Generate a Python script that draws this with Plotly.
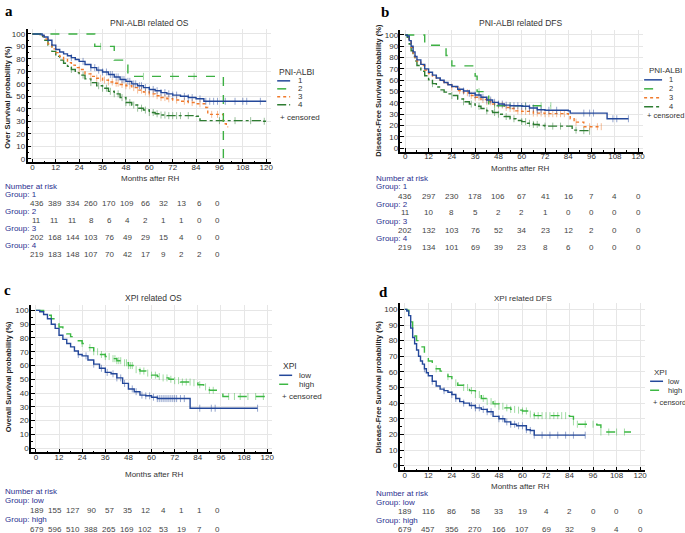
import numpy as np
import plotly.graph_objects as go

W, H = 685, 533

MONTH_TICKS = [0, 12, 24, 36, 48, 60, 72, 84, 96, 108, 120]

# ---------------- Panel a: PNI-ALBI related OS ----------------
A1_T = [0, 3, 5, 6, 8, 10, 12, 14, 16, 18, 20, 22, 24, 27, 30, 33, 36, 39, 42, 45, 48, 51, 54, 57, 60, 63, 66, 69, 72, 76, 80, 84, 88, 120]
A1_S = [100, 100, 99, 97.5, 95, 91, 87.5, 85.5, 84, 82.5, 81, 79.5, 78, 75.5, 73, 71, 69.5, 67.5, 65.5, 63.5, 62, 60, 58.5, 57, 55.5, 54.5, 53, 52, 51, 50, 49, 48, 46, 46]
A2_T = [0, 32, 42, 49, 98]
A2_S = [100, 90, 79, 66, 0]
A3_T = [0, 3, 4, 6, 8, 10, 12, 14, 16, 18, 20, 22, 24, 27, 30, 33, 36, 39, 42, 45, 48, 51, 54, 57, 60, 63, 66, 69, 72, 76, 80, 84, 89, 90, 98, 99.5, 100.5]
A3_S = [100, 100, 98.5, 96, 92, 88, 85, 82, 79.5, 77, 75, 73, 71.5, 68, 66, 64.5, 63, 61.5, 60.5, 59.5, 58.5, 57, 55, 53.5, 52, 50.5, 49, 48, 47, 46, 45, 44, 41, 35.5, 28, 25.5, 25.5]
A4_T = [0, 3, 4, 6, 8, 10, 12, 14, 16, 18, 20, 22, 24, 27, 30, 33, 36, 39, 42, 45, 48, 51, 54, 57, 60, 63, 66, 69, 72, 80, 84, 86, 117, 120]
A4_S = [100, 100, 98, 95, 91, 86, 82, 79, 76.5, 74, 71.5, 69, 67, 64, 61, 58.5, 56.5, 54, 52, 49, 45, 43, 40.5, 39, 37, 36, 35, 34.5, 34.5, 34.5, 34, 30.5, 30, 30]
A1_C = [20, 26, 30, 32, 34, 36, 38, 40, 41, 43, 44, 46, 47, 49, 50, 52, 53, 55, 56, 58, 60, 62, 64, 66, 68, 70, 72, 74, 78, 80, 82, 86, 89, 91, 93, 95, 99, 104, 108, 110, 117]
A2_C = [35, 57, 72, 83]
A3_C = [24, 30, 33, 35, 37, 39, 41, 43, 44, 46, 48, 50, 52, 54, 56, 58, 60, 62, 64, 66, 68, 70, 74, 78, 82, 86, 92, 95]
A4_C = [20, 26, 30, 34, 36, 38, 40, 42, 44, 46, 48, 50, 52, 54, 56, 58, 60, 62, 64, 66, 68, 70, 72, 74, 76, 80, 96, 104, 112, 119]
A_RISK_1 = [436, 389, 334, 260, 170, 109, 66, 32, 13, 6, 0]
A_RISK_2 = [11, 11, 11, 8, 6, 4, 2, 1, 1, 0, 0]
A_RISK_3 = [202, 168, 144, 103, 76, 49, 29, 15, 4, 0, 0]
A_RISK_4 = [219, 183, 148, 107, 70, 42, 17, 9, 2, 2, 0]

# ---------------- Panel b: PNI-ALBI related DFS ----------------
B1_T = [0, 1, 2, 3, 4, 5, 6, 8, 10, 12, 14, 16, 18, 20, 22, 24, 27, 30, 33, 36, 39, 42, 45, 48, 51, 54, 60, 64, 68, 72, 84, 85, 104, 115]
B1_S = [100, 99, 95, 90, 85, 81, 78, 74, 70, 67, 64.5, 62, 60, 58, 56, 54.5, 52, 50.5, 48.5, 47, 45, 42.5, 40.5, 39, 38, 37.5, 37, 35.5, 34, 33.5, 33, 31, 26, 26]
B2_T = [0, 10, 21, 24, 36, 37, 43, 75]
B2_S = [100, 90.9, 81.8, 72.7, 63.6, 50, 37.5, 37.5]
B3_T = [0, 1, 2, 3, 4, 5, 6, 8, 10, 12, 14, 16, 18, 20, 22, 24, 27, 30, 33, 36, 39, 42, 45, 48, 51, 54, 57, 60, 66, 72, 84, 85, 87, 92, 101]
B3_S = [100, 99, 94, 89, 84, 80, 77, 73, 69, 66, 63, 61, 59, 57, 55.5, 54, 51, 49, 46.5, 45, 43, 41, 39, 38, 36, 35, 33, 32.5, 31, 30.5, 30, 26, 23, 19, 19]
B4_T = [0, 1, 2, 3, 4, 5, 6, 8, 10, 12, 14, 16, 18, 20, 22, 24, 27, 30, 33, 36, 39, 42, 45, 48, 51, 54, 57, 60, 63, 66, 69, 72, 84, 86, 90, 95]
B4_S = [100, 98, 92, 86, 81, 77, 73, 68, 64, 60.5, 57, 54, 51.5, 49.5, 48, 46.5, 43.5, 41, 39, 37, 35, 33, 31.5, 30, 28, 26, 24.5, 23.5, 22, 21, 20, 19.5, 19.5, 16, 15.5, 15]
B1_C = [30, 33, 36, 38, 40, 42, 44, 46, 48, 50, 52, 54, 56, 58, 60, 62, 64, 66, 68, 70, 74, 78, 92, 95, 97, 107, 109, 115]
B2_C = [38, 46, 54, 62, 70, 75]
B3_C = [24, 28, 32, 34, 36, 38, 40, 42, 44, 46, 48, 50, 52, 54, 56, 58, 60, 62, 64, 66, 68, 70, 72, 74, 76, 78, 80, 82, 88, 95, 99, 101]
B4_C = [14, 24, 30, 34, 38, 42, 46, 48, 52, 56, 60, 62, 64, 66, 68, 72, 76, 80, 88, 92, 95]
B_RISK_1 = [436, 297, 230, 178, 106, 67, 41, 16, 7, 4, 0]
B_RISK_2 = [11, 10, 8, 5, 2, 2, 1, 0, 0, 0, 0]
B_RISK_3 = [202, 132, 103, 76, 52, 34, 23, 12, 2, 0, 0]
B_RISK_4 = [219, 134, 101, 69, 39, 23, 8, 6, 0, 0, 0]

# ---------------- Panel c: XPI related OS ----------------
CL_T = [0, 2, 4, 6, 8, 10, 12, 14, 16, 18, 20, 22, 24, 27, 30, 33, 36, 39, 42, 45, 48, 51, 54, 57, 60, 63, 80, 115]
CL_S = [100, 99, 97, 94, 90, 87, 82, 79, 76, 73.5, 70.5, 68, 67, 64, 61, 58, 55, 54, 51, 47, 43, 41, 38.5, 38, 37, 36, 29, 29]
CH_T = [0, 2, 4, 6, 8, 10, 12, 14, 16, 18, 20, 22, 24, 27, 30, 33, 36, 39, 42, 45, 48, 51, 54, 57, 60, 63, 66, 69, 72, 75, 81, 84, 87, 90, 97, 120]
CH_S = [100, 100, 98.5, 96.5, 94, 91, 88, 85, 83, 81, 79.5, 78, 76, 73, 70, 68, 66.5, 65, 63.5, 62, 60, 57, 56, 54.5, 53, 52, 51, 50, 49, 48, 47.5, 46, 44.5, 42, 37.5, 37.5]
CL_C = [22, 26, 30, 34, 37, 40, 42, 44, 46, 50, 52, 55, 57, 59, 61, 63, 64, 65, 66, 67, 68, 69, 70, 71, 72, 73, 75, 77, 85, 91, 93, 115]
CH_C = [24, 28, 30, 32, 34, 36, 38, 40, 41, 42, 43, 44, 46, 47, 48, 49, 50, 52, 54, 56, 58, 60, 62, 64, 66, 68, 70, 72, 74, 76, 78, 80, 82, 85, 88, 90, 92, 100, 103, 106, 110, 114, 118]
C_RISK_LOW = [189, 155, 127, 90, 57, 35, 12, 4, 1, 1, 0]
C_RISK_HIGH = [679, 596, 510, 388, 265, 169, 102, 53, 19, 7, 0]

# ---------------- Panel d: XPI related DFS ----------------
DL_T = [0, 1, 2, 3, 4, 5, 6, 7, 8, 9, 10, 11, 12, 14, 16, 18, 20, 22, 24, 26, 28, 30, 33, 36, 39, 42, 45, 48, 51, 54, 57, 62, 64, 66, 92]
DL_S = [100, 99, 96, 88, 82, 78, 74, 70, 67, 65, 62, 59.5, 57.5, 54, 51, 49, 48, 47, 45.5, 43, 41, 40, 38.5, 37, 36, 34.5, 31.5, 30, 28, 26.5, 25.5, 23, 22.5, 19.5, 19.5]
DH_T = [0, 1, 2, 3, 4, 5, 6, 8, 10, 12, 14, 16, 18, 20, 22, 24, 27, 30, 33, 36, 39, 42, 45, 48, 51, 54, 57, 60, 63, 66, 84, 86, 88, 98, 100, 115]
DH_S = [100, 99.5, 97, 92, 87, 83, 80, 76, 72, 67, 64.5, 62, 60.5, 59, 57, 53, 51.5, 50, 48, 45.5, 43, 41, 39.5, 38, 37, 36, 35.5, 35, 33, 32, 31.5, 28, 26.5, 26, 21.5, 21]
DL_C = [10, 14, 20, 24, 26, 30, 34, 36, 38, 40, 42, 44, 48, 50, 52, 54, 56, 58, 60, 62, 64, 66, 70, 74, 78, 82, 86, 92]
DH_C = [16, 22, 26, 30, 32, 34, 36, 38, 40, 42, 44, 46, 48, 50, 52, 54, 56, 58, 60, 62, 64, 66, 68, 70, 72, 74, 76, 78, 80, 82, 86, 88, 92, 96, 100, 104, 108, 112]
D_RISK_LOW = [189, 116, 86, 58, 33, 19, 4, 2, 0, 0, 0]
D_RISK_HIGH = [679, 457, 356, 270, 166, 107, 69, 32, 9, 4, 0]

# ---------------- styles ----------------
BLUE = "#24489a"
GREEN2 = "#3db043"
ORANGE = "#f07a2c"
GREEN4 = "#2e7d32"
XGREEN = "#3cb843"
NAVY = "#2b2f8f"
TXT = "#333333"
FONT = "Liberation Sans"

XR = [-2.5, 122.5]
YR = [-3, 104]


def dom_x(x0px, x120px):
    s = (x120px - x0px) / 120.0
    return [(x0px + XR[0] * s) / W, (x0px + XR[1] * s) / W]


def dom_y(y0px, y100px):
    s = (y0px - y100px) / 100.0
    bottom = y0px - YR[0] * s
    top = y0px - YR[1] * s
    return [1 - bottom / H, 1 - top / H]


def px(x):
    return x / W


def py(y):
    return 1 - y / H


def step_at(ts, ss, t):
    i = int(np.searchsorted(np.asarray(ts, float), t, side="right")) - 1
    return ss[max(i, 0)]


fig = go.Figure()


def add_curve(ts, ss, cs, color, dash, ax):
    xa, ya = ax
    fig.add_trace(go.Scatter(x=ts, y=ss, mode="lines", xaxis=xa, yaxis=ya,
                             line=dict(shape="hv", color=color, dash=dash, width=1.4),
                             showlegend=False, hoverinfo="skip"))
    fig.add_trace(go.Scatter(x=cs, y=[step_at(ts, ss, c) for c in cs], mode="markers",
                             xaxis=xa, yaxis=ya, opacity=0.6,
                             marker=dict(symbol="line-ns", size=5, line=dict(width=0.8, color=color)),
                             showlegend=False, hoverinfo="skip"))


AX = {"a": ("x", "y"), "b": ("x2", "y2"), "c": ("x3", "y3"), "d": ("x4", "y4")}

add_curve(A4_T, A4_S, A4_C, GREEN4, "dashdot", AX["a"])
add_curve(A3_T, A3_S, A3_C, ORANGE, "dot", AX["a"])
add_curve(A2_T, A2_S, A2_C, GREEN2, "dash", AX["a"])
add_curve(A1_T, A1_S, A1_C, BLUE, "solid", AX["a"])

add_curve(B4_T, B4_S, B4_C, GREEN4, "dashdot", AX["b"])
add_curve(B3_T, B3_S, B3_C, ORANGE, "dot", AX["b"])
add_curve(B2_T, B2_S, B2_C, GREEN2, "dash", AX["b"])
add_curve(B1_T, B1_S, B1_C, BLUE, "solid", AX["b"])

add_curve(CH_T, CH_S, CH_C, XGREEN, "dash", AX["c"])
add_curve(CL_T, CL_S, CL_C, BLUE, "solid", AX["c"])

add_curve(DH_T, DH_S, DH_C, XGREEN, "dash", AX["d"])
add_curve(DL_T, DL_S, DL_C, BLUE, "solid", AX["d"])


def xaxis(dom, anchor):
    return dict(domain=dom, anchor=anchor, range=XR, tick0=0, dtick=12,
                showline=True, linecolor="black", linewidth=1.5,
                ticks="inside", ticklen=4, tickwidth=1, tickcolor="black",
                ticklabelstandoff=-4,
                showgrid=True, gridcolor="#e6e6e6", gridwidth=1, zeroline=False,
                tickfont=dict(size=8, color=TXT, family=FONT),
                minor=dict(dtick=6, tick0=0, ticks="inside", ticklen=2, tickcolor="black", showgrid=False))


def yaxis(dom, anchor):
    return dict(domain=dom, anchor=anchor, range=YR, tick0=0, dtick=10,
                showline=True, linecolor="black", linewidth=1.5,
                ticks="inside", ticklen=4, tickwidth=1, tickcolor="black",
                ticklabelstandoff=-1,
                showgrid=True, gridcolor="#e6e6e6", gridwidth=1, zeroline=False,
                tickfont=dict(size=8, color=TXT, family=FONT),
                minor=dict(dtick=5, tick0=0, ticks="inside", ticklen=2, tickcolor="black", showgrid=False))


layout = dict(
    width=W, height=H, margin=dict(l=0, r=0, t=0, b=0),
    paper_bgcolor="white", plot_bgcolor="white", showlegend=False,
    font=dict(family=FONT, size=8, color=TXT),
    xaxis=xaxis(dom_x(32.5, 267), "y"), yaxis=yaxis(dom_y(159, 34), "x"),
    xaxis2=xaxis(dom_x(406.5, 640), "y2"), yaxis2=yaxis(dom_y(148.5, 35), "x2"),
    xaxis3=xaxis(dom_x(36, 268), "y3"), yaxis3=yaxis(dom_y(449, 311), "x3"),
    xaxis4=xaxis(dom_x(406, 642), "y4"), yaxis4=yaxis(dom_y(466.5, 310), "x4"),
)
fig.update_layout(**layout)

ann = []
shapes = []


def text(x, y, s, size=8, color=TXT, xanchor="left", angle=0, bold=False, family=FONT, xref="paper"):
    ann.append(dict(x=x if xref != "paper" else px(x), y=py(y), xref=xref, yref="paper",
                    text=("<b>%s</b>" % s) if bold else s, showarrow=False,
                    xanchor=xanchor, yanchor="middle", textangle=angle,
                    font=dict(size=size, color=color, family=family)))


# panel letters
for lx, ly, lt in [(9, 11, "a"), (386, 12, "b"), (8, 291, "c"), (385, 293, "d")]:
    text(lx, ly, lt, size=15, color="black", xanchor="center", bold=True, family="Liberation Serif")

# titles
text(150, 23, "PNI-ALBI related OS", size=8.5, xanchor="center")
text(522, 23, "PNI-ALBI related DFS", size=8.5, xanchor="center")
text(154, 299, "XPI related OS", size=8.5, xanchor="center")
text(525, 299, "XPI related DFS", size=8, xanchor="center")

# axis titles
text(150, 179, "Months after RH", xanchor="center")
text(522, 169, "Months after RH", xanchor="center")
text(154, 475, "Months after RH", xanchor="center")
text(522, 487, "Months after RH", xanchor="center")
text(8, 97, "Over Survival probability (%)", size=7.5, color="#222", xanchor="center", angle=-90, bold=True)
text(380, 90, "Disease-Free Survival probability (%)", size=7.5, color="#222", xanchor="center", angle=-90, bold=True)
text(8, 377, "Overall Survival probability (%)", size=7.5, color="#222", xanchor="center", angle=-90, bold=True)
text(379, 387, "Disease-Free Survival probability (%)", size=7.5, color="#222", xanchor="center", angle=-90, bold=True)


# legends
def legend(x, ytitle, title, items, censor_y, censor_text, line_x0, line_x1, label_x, size=8):
    text(x, ytitle, title, size=size + 0.5)
    for (lab, col, dash, yy) in items:
        shapes.append(dict(type="line", xref="paper", yref="paper", x0=px(line_x0), x1=px(line_x1),
                           y0=py(yy), y1=py(yy), line=dict(color=col, width=1.5, dash=dash)))
        text(label_x, yy, lab, size=size)
    text(line_x0 + 1, censor_y, censor_text, size=size)


legend(278, 72, "PNI-ALBI", [("1", BLUE, "solid", 81), ("2", GREEN2, "dash", 89),
                              ("3", ORANGE, "dot", 97), ("4", GREEN4, "dashdot", 105)],
       118, "+ censored", 278, 291, 297)
legend(649, 71, "PNI-ALBI", [("1", BLUE, "solid", 80), ("2", GREEN2, "dash", 89),
                              ("3", ORANGE, "dot", 98), ("4", GREEN4, "dashdot", 107)],
       116, "+ censored", 646, 664, 669, size=7.5)
legend(282, 367, "XPI", [("low", BLUE, "solid", 376), ("high", XGREEN, "dash", 385)],
       397, "+ censored", 280, 293, 298)
legend(654, 373, "XPI", [("low", BLUE, "solid", 382), ("high", XGREEN, "dash", 391)],
       403, "+ censord", 652, 665, 668, size=7.5)


# risk tables
def risk_table(xlab, ytitle, groups, col_pos, xref):
    text(xlab, ytitle, "Number at risk", color=NAVY)
    for (gname, ylab, yrow, vals) in groups:
        text(xlab, ylab, "Group: %s" % gname, color=NAVY)
        for cx, v in zip(col_pos, vals):
            text(cx, yrow, str(v), color="#444", xanchor="center", xref=xref)


COLS_NARROW = [37 + 18.1 * i for i in range(11)]

risk_table(3, 187, [("1", 195, 204, A_RISK_1), ("2", 212, 221, A_RISK_2),
                    ("3", 229, 238, A_RISK_3), ("4", 246, 255, A_RISK_4)], COLS_NARROW, "paper")
risk_table(375, 179, [("1", 187, 197, B_RISK_1), ("2", 205, 213, B_RISK_2),
                      ("3", 222, 231, B_RISK_3), ("4", 239, 248, B_RISK_4)], MONTH_TICKS, "x2")
risk_table(3, 492, [("low", 501, 511, C_RISK_LOW), ("high", 520, 530, C_RISK_HIGH)], COLS_NARROW, "paper")
risk_table(375, 494, [("low", 503, 512, D_RISK_LOW), ("high", 521, 530, D_RISK_HIGH)], MONTH_TICKS, "x4")

fig.update_layout(annotations=ann, shapes=shapes)
fig.write_html("out.html", config={"displayModeBar": False},
               post_script="document.body.style.margin='0px';document.body.style.overflow='hidden';")
